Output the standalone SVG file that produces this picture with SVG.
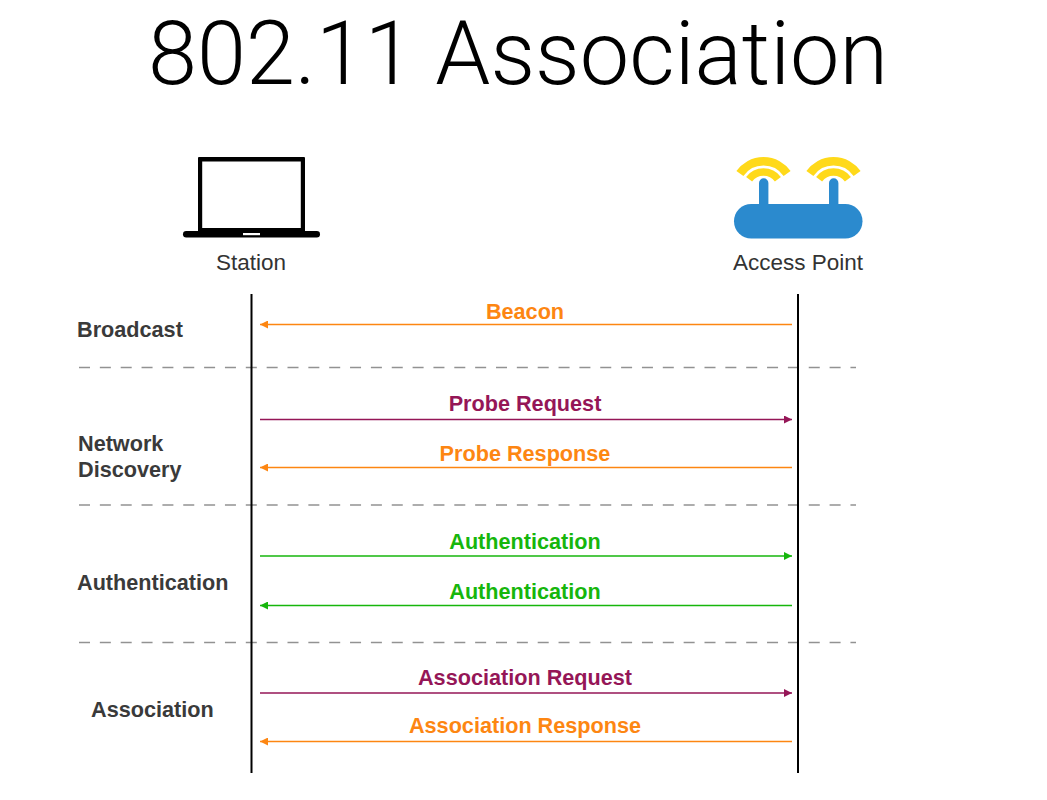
<svg xmlns="http://www.w3.org/2000/svg" width="1047" height="800" viewBox="0 0 1047 800">
<style>
text{font-family:"Liberation Sans",Arial,Helvetica,sans-serif}
.t{font-family:Roboto,"Liberation Sans",sans-serif;font-weight:300;font-size:88.200px;fill:#000;text-anchor:middle}
.n{font-size:22.500px;fill:#333;text-anchor:middle}
.g{font-size:21.650px;font-weight:bold;fill:#3a3a3a}
.l{font-size:21.650px;font-weight:bold;text-anchor:middle}
.life{stroke:#000;stroke-width:2;fill:none}
.dash{stroke:#929292;stroke-width:1.5;stroke-dasharray:11 9.85;fill:none}
.a{stroke-width:1.7;fill:none}
.o{stroke:#fd8612}.p{stroke:#951657}.e{stroke:#16b60c}
.ot{fill:#fd8612}.pt{fill:#951657}.et{fill:#16b60c}
.y{stroke:#ffd91a;fill:none}
</style>
<defs>
<marker id="mo" markerUnits="userSpaceOnUse" markerWidth="9" markerHeight="8" refX="8" refY="4" orient="auto-start-reverse"><path d="M0 0L8 4L0 8Z" fill="#fd8612"/></marker>
<marker id="mp" markerUnits="userSpaceOnUse" markerWidth="9" markerHeight="8" refX="8" refY="4" orient="auto-start-reverse"><path d="M0 0L8 4L0 8Z" fill="#951657"/></marker>
<marker id="me" markerUnits="userSpaceOnUse" markerWidth="9" markerHeight="8" refX="8" refY="4" orient="auto-start-reverse"><path d="M0 0L8 4L0 8Z" fill="#16b60c"/></marker>
</defs>
<rect width="1047" height="800" fill="#fff"/>
<text class="t" x="518" y="84">802.11 Association</text>
<g id="station">
<path fill="#000" fill-rule="evenodd" d="M199 157H304a1 1 0 0 1 1 1V232H198V158a1 1 0 0 1 1-1ZM202.200 161.500V228H300.800V161.500Z"/>
<rect x="183" y="231" width="137" height="6.500" rx="3.200" fill="#000"/>
<rect x="243" y="233" width="17" height="2.200" fill="#fff"/>
<text class="n" x="251" y="270">Station</text>
</g>
<g id="access-point">
<path class="y" stroke-width="8.500" d="M739.900 173.500A28.800 28.800 0 0 1 787.100 173.500"/>
<path class="y" stroke-width="7.500" d="M749.100 179.200A18 18 0 0 1 777.900 179.200"/>
<path class="y" stroke-width="8.500" d="M809.900 173.500A28.800 28.800 0 0 1 857.100 173.500"/>
<path class="y" stroke-width="7.500" d="M819.100 179.200A18 18 0 0 1 847.900 179.200"/>
<path d="M759 206V183a4.700 4.700 0 0 1 9.400 0V206Z" fill="#2b8ace"/>
<path d="M829 206V183a4.700 4.700 0 0 1 9.400 0V206Z" fill="#2b8ace"/>
<rect x="734" y="204" width="128.500" height="34.500" rx="17.200" fill="#2b8ace"/>
<text class="n" x="798" y="270">Access Point</text>
</g>
<g id="phase-labels">
<text class="g" x="77" y="337">Broadcast</text>
<text class="g" x="78" y="451">Network</text>
<text class="g" x="78" y="477">Discovery</text>
<text class="g" x="77" y="590">Authentication</text>
<text class="g" x="91" y="716.500">Association</text>
</g>
<g id="connectors">
<path class="dash" d="M79 367.500H856M79 505H856M79 642.500H856"/>
<path class="life" d="M251.500 294V773M798 294V773"/>
<path class="a o" marker-start="url(#mo)" d="M260 324.500H792"/>
<path class="a p" marker-end="url(#mp)" d="M260 419.500H792"/>
<path class="a o" marker-start="url(#mo)" d="M260 467.500H792"/>
<path class="a e" marker-end="url(#me)" d="M260 556H792"/>
<path class="a e" marker-start="url(#me)" d="M260 605.500H792"/>
<path class="a p" marker-end="url(#mp)" d="M260 693H792"/>
<path class="a o" marker-start="url(#mo)" d="M260 741.500H792"/>
</g>
<g id="connector-labels">
<text class="l ot" x="525" y="319">Beacon</text>
<text class="l pt" x="525" y="411">Probe Request</text>
<text class="l ot" x="525" y="461">Probe Response</text>
<text class="l et" x="525" y="549">Authentication</text>
<text class="l et" x="525" y="599">Authentication</text>
<text class="l pt" x="525" y="685">Association Request</text>
<text class="l ot" x="525" y="733">Association Response</text>
</g>
</svg>
